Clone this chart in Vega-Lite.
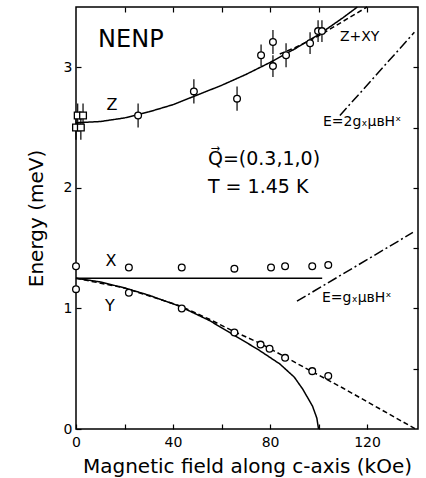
{
  "$schema": "https://vega.github.io/schema/vega-lite/v6.json",
  "width": 342,
  "height": 422,
  "autosize": {"type": "none"},
  "padding": {"left": 76, "top": 7, "right": 8, "bottom": 49},
  "background": "white",
  "config": {
    "view": {"stroke": "black", "strokeWidth": 1.5},
    "font": "DejaVu Sans",
    "axis": {
      "labelFont": "DejaVu Sans",
      "titleFont": "DejaVu Sans",
      "labelColor": "black",
      "titleColor": "black",
      "tickColor": "black",
      "tickWidth": 1.2,
      "titleFontWeight": "normal",
      "grid": false,
      "domain": false,
      "labelFontSize": 14,
      "titleFontSize": 19,
      "labelOverlap": false,
      "labelFlush": false
    }
  },
  "datasets": {
    "lines": [
      {"s": "Z", "st": "solid", "h": 0, "e": 2.54},
      {"s": "Z", "st": "solid", "h": 10, "e": 2.55},
      {"s": "Z", "st": "solid", "h": 20, "e": 2.58},
      {"s": "Z", "st": "solid", "h": 30, "e": 2.63},
      {"s": "Z", "st": "solid", "h": 40, "e": 2.69},
      {"s": "Z", "st": "solid", "h": 50, "e": 2.77},
      {"s": "Z", "st": "solid", "h": 60, "e": 2.85},
      {"s": "Z", "st": "solid", "h": 70, "e": 2.94},
      {"s": "Z", "st": "solid", "h": 80, "e": 3.04},
      {"s": "Z", "st": "solid", "h": 90, "e": 3.15},
      {"s": "Z", "st": "solid", "h": 100, "e": 3.27},
      {"s": "Z", "st": "solid", "h": 110, "e": 3.41},
      {"s": "Z", "st": "solid", "h": 116, "e": 3.5},
      {"s": "ZXY", "st": "dash", "h": 84, "e": 3.11},
      {"s": "ZXY", "st": "dash", "h": 90, "e": 3.16},
      {"s": "ZXY", "st": "dash", "h": 100, "e": 3.26},
      {"s": "ZXY", "st": "dash", "h": 110, "e": 3.38},
      {"s": "ZXY", "st": "dash", "h": 120, "e": 3.5},
      {"s": "X", "st": "solid", "h": 0, "e": 1.25},
      {"s": "X", "st": "solid", "h": 101.5, "e": 1.25},
      {"s": "Ys", "st": "solid", "h": 0, "e": 1.25},
      {"s": "Ys", "st": "solid", "h": 10, "e": 1.22},
      {"s": "Ys", "st": "solid", "h": 20, "e": 1.17},
      {"s": "Ys", "st": "solid", "h": 30, "e": 1.11},
      {"s": "Ys", "st": "solid", "h": 42.5, "e": 1.02},
      {"s": "Ys", "st": "solid", "h": 55, "e": 0.9},
      {"s": "Ys", "st": "solid", "h": 65, "e": 0.78},
      {"s": "Ys", "st": "solid", "h": 75, "e": 0.66},
      {"s": "Ys", "st": "solid", "h": 84, "e": 0.54},
      {"s": "Ys", "st": "solid", "h": 90, "e": 0.43},
      {"s": "Ys", "st": "solid", "h": 93.5, "e": 0.33},
      {"s": "Ys", "st": "solid", "h": 97.5, "e": 0.19},
      {"s": "Ys", "st": "solid", "h": 99.3, "e": 0.09},
      {"s": "Ys", "st": "solid", "h": 100, "e": 0},
      {"s": "Yd", "st": "dash", "h": 0, "e": 1.25},
      {"s": "Yd", "st": "dash", "h": 20, "e": 1.17},
      {"s": "Yd", "st": "dash", "h": 43, "e": 1.02},
      {"s": "Yd", "st": "dash", "h": 55, "e": 0.91},
      {"s": "Yd", "st": "dash", "h": 65, "e": 0.81},
      {"s": "Yd", "st": "dash", "h": 76, "e": 0.71},
      {"s": "Yd", "st": "dash", "h": 86, "e": 0.6},
      {"s": "Yd", "st": "dash", "h": 96, "e": 0.49},
      {"s": "Yd", "st": "dash", "h": 110, "e": 0.34},
      {"s": "Yd", "st": "dash", "h": 125, "e": 0.17},
      {"s": "Yd", "st": "dash", "h": 140, "e": 0},
      {"s": "E2", "st": "dashdot", "h": 108.8, "e": 2.6},
      {"s": "E2", "st": "dashdot", "h": 139.5, "e": 3.29},
      {"s": "E1", "st": "dashdot", "h": 91.1, "e": 1.06},
      {"s": "E1", "st": "dashdot", "h": 138.9, "e": 1.63}
    ],
    "zpts": [
      {"h": 0, "e": 2.5, "lo": 2.4, "hi": 2.6, "sym": "s"},
      {"h": 2, "e": 2.5, "lo": 2.4, "hi": 2.6, "sym": "s"},
      {"h": 0.7, "e": 2.6, "lo": 2.5, "hi": 2.7, "sym": "s"},
      {"h": 2.9, "e": 2.6, "lo": 2.5, "hi": 2.7, "sym": "s"},
      {"h": 25.6, "e": 2.6, "lo": 2.5, "hi": 2.7, "sym": "c"},
      {"h": 48.6, "e": 2.8, "lo": 2.7, "hi": 2.9, "sym": "c"},
      {"h": 66.4, "e": 2.74, "lo": 2.64, "hi": 2.84, "sym": "c"},
      {"h": 76.3, "e": 3.1, "lo": 3.01, "hi": 3.19, "sym": "c"},
      {"h": 81.2, "e": 3.21, "lo": 3.11, "hi": 3.31, "sym": "c"},
      {"h": 81.2, "e": 3.01, "lo": 2.92, "hi": 3.1, "sym": "c"},
      {"h": 86.6, "e": 3.1, "lo": 3.0, "hi": 3.2, "sym": "c"},
      {"h": 96.5, "e": 3.2, "lo": 3.11, "hi": 3.29, "sym": "c"},
      {"h": 99.8, "e": 3.3, "lo": 3.21, "hi": 3.39, "sym": "c"},
      {"h": 101.4, "e": 3.3, "lo": 3.21, "hi": 3.39, "sym": "c"}
    ],
    "xypts": [
      {"h": 0, "e": 1.35},
      {"h": 21.8, "e": 1.34},
      {"h": 43.6, "e": 1.34},
      {"h": 65.3, "e": 1.33},
      {"h": 80.4, "e": 1.34},
      {"h": 86.2, "e": 1.35},
      {"h": 97.4, "e": 1.35},
      {"h": 104, "e": 1.36},
      {"h": 0, "e": 1.16},
      {"h": 21.8, "e": 1.13},
      {"h": 43.6, "e": 1.0},
      {"h": 65.3, "e": 0.8},
      {"h": 76.1, "e": 0.7},
      {"h": 79.8, "e": 0.665},
      {"h": 86.2, "e": 0.59},
      {"h": 97.4, "e": 0.48},
      {"h": 104, "e": 0.44}
    ]
  },
  "layer": [
    {
      "data": {"name": "lines"},
      "mark": {"type": "line", "color": "black", "strokeWidth": 1.5},
      "encoding": {
        "x": {
          "field": "h", "type": "quantitative",
          "scale": {"domain": [0, 141], "nice": false, "zero": false},
          "axis": {
            "orient": "bottom",
            "values": [0, 20, 40, 60, 80, 100, 120],
            "format": "d",
            "labelExpr": "datum.value % 40 === 0 ? datum.label : ''",
            "tickSize": -5,
            "labelPadding": 11,
            "title": "Magnetic field along c-axis (kOe)",
            "titleFontSize": 20,
            "titlePadding": 7
          }
        },
        "y": {
          "field": "e", "type": "quantitative",
          "scale": {"domain": [0, 3.5], "nice": false, "zero": false},
          "axis": {
            "orient": "left",
            "values": [0, 0.5, 1, 1.5, 2, 2.5, 3],
            "format": "d",
            "labelExpr": "datum.value % 1 === 0 ? datum.label : ''",
            "tickSize": -5,
            "labelPadding": 9,
            "title": "Energy  (meV)",
            "titleFontSize": 20,
            "titlePadding": 17
          }
        },
        "detail": {"field": "s"},
        "strokeDash": {
          "field": "st", "type": "nominal",
          "scale": {"domain": ["solid", "dash", "dashdot"], "range": [[1, 0], [5, 3], [10, 3, 2, 3]]},
          "legend": null
        }
      }
    },
    {
      "data": {"name": "zpts"},
      "mark": {"type": "rule", "color": "black", "strokeWidth": 1.2},
      "encoding": {
        "x": {"field": "h", "type": "quantitative", "scale": {"domain": [0, 141], "nice": false, "zero": false}, "axis": null},
        "y": {"field": "lo", "type": "quantitative", "scale": {"domain": [0, 3.5], "nice": false, "zero": false}, "axis": null},
        "y2": {"field": "hi"}
      }
    },
    {
      "data": {"name": "zpts"},
      "mark": {"type": "point", "filled": true, "fill": "white", "stroke": "black", "strokeWidth": 1.3, "opacity": 1, "size": 45},
      "encoding": {
        "x": {"field": "h", "type": "quantitative", "scale": {"domain": [0, 141], "nice": false, "zero": false}, "axis": null},
        "y": {"field": "e", "type": "quantitative", "scale": {"domain": [0, 3.5], "nice": false, "zero": false}, "axis": null},
        "shape": {"field": "sym", "type": "nominal", "scale": {"domain": ["c", "s"], "range": ["circle", "square"]}, "legend": null}
      }
    },
    {
      "data": {"name": "xypts"},
      "mark": {"type": "point", "shape": "circle", "filled": true, "fill": "white", "stroke": "black", "strokeWidth": 1.3, "opacity": 1, "size": 45},
      "encoding": {
        "x": {"field": "h", "type": "quantitative", "scale": {"domain": [0, 141], "nice": false, "zero": false}, "axis": null},
        "y": {"field": "e", "type": "quantitative", "scale": {"domain": [0, 3.5], "nice": false, "zero": false}, "axis": null}
      }
    },
    {
      "data": {"values": [{"t": "NENP", "h": 9.1, "e": 3.23}]},
      "mark": {"type": "text", "align": "left", "baseline": "middle", "fontSize": 24, "color": "black"},
      "encoding": {
        "x": {
          "field": "h", "type": "quantitative", "scale": {"domain": [0, 141], "nice": false, "zero": false},
          "axis": {"orient": "top", "values": [20, 40, 60, 80, 100, 120], "labels": false, "tickSize": -5, "title": null}
        },
        "y": {
          "field": "e", "type": "quantitative", "scale": {"domain": [0, 3.5], "nice": false, "zero": false},
          "axis": {"orient": "right", "values": [0.5, 1, 1.5, 2, 2.5, 3], "labels": false, "tickSize": -5, "title": null}
        },
        "text": {"field": "t"}
      }
    },
    {
      "data": {"values": [
        {"t": "Q⃗=(0.3,1,0)", "h": 54.4, "e": 2.24},
        {"t": "T = 1.45 K", "h": 54.4, "e": 2.01}
      ]},
      "mark": {"type": "text", "align": "left", "baseline": "middle", "fontSize": 19, "color": "black"},
      "encoding": {
        "x": {"field": "h", "type": "quantitative", "scale": {"domain": [0, 141], "nice": false, "zero": false}, "axis": null},
        "y": {"field": "e", "type": "quantitative", "scale": {"domain": [0, 3.5], "nice": false, "zero": false}, "axis": null},
        "text": {"field": "t"}
      }
    },
    {
      "data": {"values": [
        {"t": "Z", "h": 14.8, "e": 2.69},
        {"t": "X", "h": 14.4, "e": 1.39},
        {"t": "Y", "h": 14.0, "e": 1.02}
      ]},
      "mark": {"type": "text", "align": "center", "baseline": "middle", "fontSize": 16, "color": "black"},
      "encoding": {
        "x": {"field": "h", "type": "quantitative", "scale": {"domain": [0, 141], "nice": false, "zero": false}, "axis": null},
        "y": {"field": "e", "type": "quantitative", "scale": {"domain": [0, 3.5], "nice": false, "zero": false}, "axis": null},
        "text": {"field": "t"}
      }
    },
    {
      "data": {"values": [
        {"t": "Z+XY", "h": 108.8, "e": 3.25},
        {"t": "E=2gₓμʙHˣ", "h": 101.8, "e": 2.55},
        {"t": "E=gₓμʙHˣ", "h": 101.4, "e": 1.09}
      ]},
      "mark": {"type": "text", "align": "left", "baseline": "middle", "fontSize": 14, "color": "black"},
      "encoding": {
        "x": {"field": "h", "type": "quantitative", "scale": {"domain": [0, 141], "nice": false, "zero": false}, "axis": null},
        "y": {"field": "e", "type": "quantitative", "scale": {"domain": [0, 3.5], "nice": false, "zero": false}, "axis": null},
        "text": {"field": "t"}
      }
    }
  ],
  "resolve": {"axis": {"x": "independent", "y": "independent"}}
}
